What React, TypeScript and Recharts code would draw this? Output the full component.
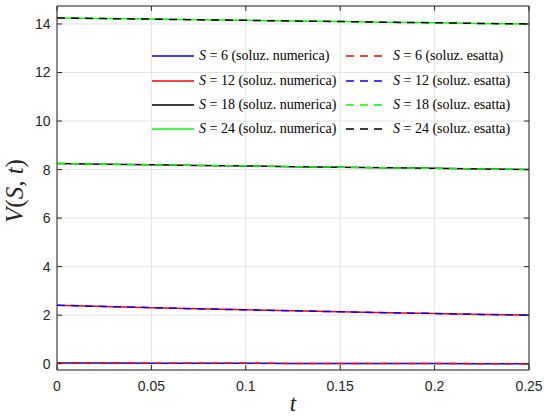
import React from 'react';
import { LineChart, Line, XAxis, YAxis, CartesianGrid, Legend, ReferenceLine } from 'recharts';

// time grid and values
const tValues = [0, 0.025, 0.05, 0.075, 0.1, 0.125, 0.15, 0.175, 0.2, 0.225, 0.25];
const valuesS6 = [0.03, 0.03, 0.02, 0.02, 0.02, 0.01, 0.01, 0.01, 0.01, 0.0, 0.0];
const valuesS12 = [2.41, 2.36, 2.31, 2.26, 2.22, 2.18, 2.14, 2.1, 2.07, 2.03, 2.0];
const valuesS18 = [8.25, 8.22, 8.2, 8.17, 8.15, 8.12, 8.1, 8.07, 8.05, 8.02, 8.0];
const valuesS24 = [14.25, 14.22, 14.2, 14.17, 14.15, 14.12, 14.1, 14.07, 14.05, 14.02, 14.0];

const sLevels = [6, 12, 18, 24];
const numColors = ['#0000ff', '#ff0000', '#000000', '#00ff00'];
const exactColors = ['#ff0000', '#0000ff', '#00ff00', '#000000'];

const xTicks = [0, 0.05, 0.1, 0.15, 0.2, 0.25];
const yTicks = [0, 2, 4, 6, 8, 10, 12, 14];

const seriesValues = [valuesS6, valuesS12, valuesS18, valuesS24];

const data = tValues.map((t, i) => {
  const row: Record<string, number> = { t };
  sLevels.forEach((s, k) => {
    row['num' + s] = seriesValues[k][i];
    row['ex' + s] = seriesValues[k][i];
  });
  return row;
});

// interleaved so the 2-column legend reads numerica | esatta per row
const series = sLevels.flatMap((s, k) => [
  { key: 'num' + s, s, kind: 'soluz. numerica', color: numColors[k], dash: undefined as string | undefined },
  { key: 'ex' + s, s, kind: 'soluz. esatta', color: exactColors[k], dash: '8 6' },
]);

const AXIS = '#262626';
const tickStyle = { fill: AXIS, fontSize: 14, fontFamily: 'Liberation Sans, Arial, sans-serif' };
const X_DOMAIN: [number, number] = [0, 0.25];
const Y_DOMAIN: [number, number] = [-0.26, 14.74];
// inward tick length on the top/right edges, in data units (~5px)
const TOP_TICK = 0.2;
const RIGHT_TICK = 0.0027;

const LegendBox = () => (
  <div
    style={{
      display: 'grid',
      gridTemplateColumns: '194px 194px',
      gridAutoRows: '24.4px',
      width: 388,
      fontFamily: 'Liberation Serif, Times New Roman, serif',
      fontSize: 14,
      color: '#000',
    }}
  >
    {series.map((d) => (
      <div key={d.key} style={{ display: 'flex', alignItems: 'center', whiteSpace: 'nowrap' }}>
        <svg width={42} height={6} style={{ marginRight: 5, flexShrink: 0 }}>
          <line x1={0} y1={3} x2={42} y2={3} stroke={d.color} strokeWidth={1.5} strokeDasharray={d.dash} />
        </svg>
        <span>
          <i>S</i> = {d.s} ({d.kind})
        </span>
      </div>
    ))}
  </div>
);

const YLabel = (p: any) => {
  const vb = p.viewBox;
  const cx = 22.5;
  const cy = vb.y + vb.height / 2 + 3;
  return (
    <text
      x={cx}
      y={cy}
      transform={`rotate(-90 ${cx} ${cy})`}
      textAnchor="middle"
      fontFamily="Liberation Serif, Times New Roman, serif"
      fontSize={25}
      fill={AXIS}
    >
      <tspan fontStyle="italic">V</tspan>
      <tspan>(</tspan>
      <tspan fontStyle="italic">S</tspan>
      <tspan>, </tspan>
      <tspan fontStyle="italic">t</tspan>
      <tspan>)</tspan>
    </text>
  );
};

const XLabel = (p: any) => {
  const vb = p.viewBox;
  return (
    <text
      x={vb.x + vb.width / 2}
      y={vb.y + 41}
      textAnchor="middle"
      fontFamily="Liberation Serif, Times New Roman, serif"
      fontStyle="italic"
      fontSize={23}
      fill={AXIS}
    >
      t
    </text>
  );
};

export default function App() {
  return (
    <div style={{ position: 'absolute', left: 0, top: 0, width: 544, height: 416, background: '#fff' }}>
      <LineChart width={544} height={416} data={data} margin={{ top: 6, right: 15, bottom: 0, left: 0 }}>
        <CartesianGrid stroke="#e3e3e3" strokeWidth={1} />
        <XAxis
          dataKey="t"
          type="number"
          domain={X_DOMAIN}
          ticks={xTicks}
          height={46}
          axisLine={{ stroke: AXIS }}
          tickLine={{ stroke: AXIS }}
          tickSize={-5}
          tickMargin={16}
          tick={tickStyle}
          label={XLabel}
        />
        <YAxis
          type="number"
          domain={Y_DOMAIN}
          allowDataOverflow
          ticks={yTicks}
          width={57}
          axisLine={{ stroke: AXIS }}
          tickLine={{ stroke: AXIS }}
          tickSize={-5}
          tickMargin={11.5}
          tick={tickStyle}
          label={YLabel}
        />
        {series.map((d) => (
          <Line
            key={d.key}
            dataKey={d.key}
            name={d.key}
            type="linear"
            stroke={d.color}
            strokeWidth={1.5}
            strokeDasharray={d.dash}
            dot={false}
            activeDot={false}
            isAnimationActive={false}
          />
        ))}
        {/* top and right edges of the axes box, MATLAB style */}
        <ReferenceLine y={Y_DOMAIN[1]} stroke={AXIS} strokeWidth={1} ifOverflow="visible" />
        <ReferenceLine x={X_DOMAIN[1]} stroke={AXIS} strokeWidth={1} ifOverflow="visible" />
        {xTicks.map((x) => (
          <ReferenceLine
            key={'tt' + x}
            segment={[{ x, y: Y_DOMAIN[1] }, { x, y: Y_DOMAIN[1] - TOP_TICK }]}
            stroke={AXIS}
            ifOverflow="visible"
          />
        ))}
        {yTicks.map((y) => (
          <ReferenceLine
            key={'rt' + y}
            segment={[{ x: X_DOMAIN[1], y }, { x: X_DOMAIN[1] - RIGHT_TICK, y }]}
            stroke={AXIS}
            ifOverflow="visible"
          />
        ))}
        <Legend
          content={() => <LegendBox />}
          wrapperStyle={{ position: 'absolute', left: 152, top: 44, width: 0, height: 0, overflow: 'visible' }}
        />
      </LineChart>
    </div>
  );
}
